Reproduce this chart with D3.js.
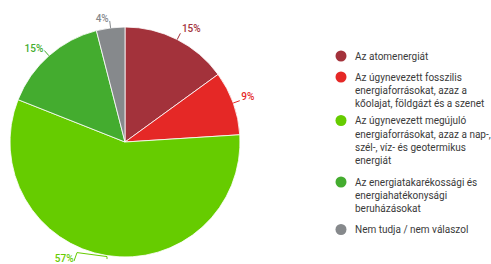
<!DOCTYPE html>
<html><head><meta charset="utf-8">
<script src="https://cdn.jsdelivr.net/npm/d3@7"></script>
<style>body{margin:0;background:#fff}svg{display:block;font-family:Roboto,sans-serif}</style>
</head><body>
<svg id="c" width="491" height="264"></svg>
<script>
const categories = [
  "Az atomenergiát",
  "Az úgynevezett fosszilis energiaforrásokat, azaz a kőolajat, földgázt és a szenet",
  "Az úgynevezett megújuló energiaforrásokat, azaz a nap-, szél-, víz- és geotermikus energiát",
  "Az energiatakarékossági és energiahatékonysági beruházásokat",
  "Nem tudja / nem válaszol"
];
const legendLines = [
  ["Az atomenergiát"],
  ["Az úgynevezett fosszilis", "energiaforrásokat, azaz a", "kőolajat, földgázt és a szenet"],
  ["Az úgynevezett megújuló", "energiaforrásokat, azaz a nap-,", "szél-, víz- és geotermikus", "energiát"],
  ["Az energiatakarékossági és", "energiahatékonysági", "beruházásokat"],
  ["Nem tudja / nem válaszol"]
];
const values = [15, 9, 57, 15, 4];
const valueLabels = ["15%", "9%", "57%", "15%", "4%"];
const colors = ["#a3323b", "#e52826", "#66cc00", "#44ac2f", "#86898c"];

const svg = d3.select("#c");
const cx = 125, cy = 142, R = 115;
const g = svg.append("g").attr("transform", `translate(${cx},${cy})`);
const pie = d3.pie().sort(null).value(d => d)(values);
const arc = d3.arc().innerRadius(0).outerRadius(R);
g.selectAll("path.slice").data(pie).join("path")
  .attr("class", "slice")
  .attr("d", arc)
  .attr("fill", (d, i) => colors[i])
  .attr("stroke", "#fff").attr("stroke-width", 0.8);

// labels
pie.forEach((d, i) => {
  const a = (d.startAngle + d.endAngle) / 2;
  const p = r => [r * Math.sin(a), -r * Math.cos(a)];
  const p0 = p(R), p1 = p(122);
  const right = Math.sin(a) > 0;
  if (i === 2) {
    const q0 = [p0[0], p0[1] + 3.5];
    const q1 = [p0[0] - 30, p0[1] - 3];
    const q2 = [q1[0] - 3, q1[1] + 8.5];
    g.append("path")
      .attr("d", `M${q0[0]},${q0[1]}L${p0[0]},${p0[1]+1}L${q1[0]},${q1[1]}L${q2[0]},${q2[1]}`)
      .attr("fill", "none").attr("stroke", colors[i]).attr("stroke-width", 1);
    g.append("text").attr("x", q2[0] - 0.5).attr("y", q2[1] + 1.2)
      .attr("text-anchor", "end").attr("font-size", 10).attr("font-weight", 500)
      .attr("fill", colors[i]).text(valueLabels[i]);
  } else {
    g.append("line").attr("x1", p0[0]).attr("y1", p0[1]).attr("x2", p1[0]).attr("y2", p1[1])
      .attr("stroke", colors[i]).attr("stroke-width", 1);
    g.append("text")
      .attr("x", p1[0] + (right ? 1.5 : -1))
      .attr("y", p1[1] + (right ? -1 : 1))
      .attr("text-anchor", right ? "start" : "end")
      .attr("font-size", 10).attr("font-weight", 500)
      .attr("fill", colors[i]).text(valueLabels[i]);
  }
});

// legend
const itemY = [56, 77, 120.5, 182, 229.5];
const lh = 13.4;
const lg = svg.append("g");
legendLines.forEach((lines, i) => {
  lg.append("circle").attr("cx", 341).attr("cy", itemY[i]).attr("r", 5.5).attr("fill", colors[i]);
  const t = lg.append("text").attr("x", 355).attr("y", itemY[i] + 3.6)
    .attr("font-size", 10).attr("fill", "#3a3a3a");
  lines.forEach((ln, j) => {
    t.append("tspan").attr("x", 355).attr("dy", j === 0 ? 0 : lh).text(ln);
  });
});
</script>
</body></html>
